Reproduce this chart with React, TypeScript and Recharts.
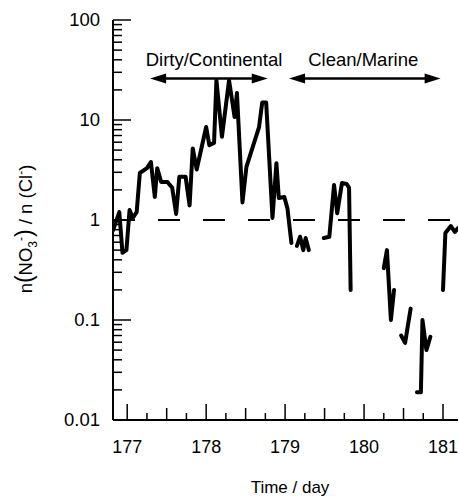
import { LineChart, Line, XAxis, YAxis, ReferenceLine, ReferenceDot, Customized } from "recharts"

// time in days, gaps in the record are marked with a null ratio
const days = [
  176.82, 176.9, 176.94, 176.99, 177.03, 177.07, 177.12, 177.16, 177.25, 177.3,
  177.35, 177.38, 177.43, 177.51, 177.57, 177.62, 177.66, 177.74, 177.79, 177.83,
  177.88, 178.0, 178.04, 178.1, 178.13, 178.2, 178.29, 178.36, 178.39, 178.46,
  178.51, 178.67, 178.71, 178.76, 178.84, 178.89, 178.92, 178.99, 179.03, 179.08,
  179.11,
  179.15, 179.19, 179.23, 179.26, 179.3,
  179.4,
  179.49, 179.56, 179.62, 179.66, 179.72, 179.78, 179.81, 179.83,
  180.0,
  180.25, 180.29, 180.34, 180.38,
  180.42,
  180.47, 180.52, 180.59,
  180.63,
  180.67, 180.72, 180.74, 180.79, 180.84,
  180.9,
  181.0, 181.03, 181.1, 181.15, 181.19,
]
const ratio = [
  0.79, 1.2, 0.47, 0.5, 1.26, 1.05, 1.2, 2.95, 3.3, 3.8,
  1.7, 3.3, 2.4, 2.4, 2.1, 1.15, 2.7, 2.7, 1.4, 5.2,
  3.2, 8.5, 5.6, 5.9, 25, 6.8, 25, 10.7, 18.6, 1.5,
  3.4, 8.5, 15, 15, 1.05, 3.7, 1.66, 1.7, 1.3, 0.59,
  null,
  0.55, 0.68, 0.5, 0.66, 0.5,
  null,
  0.66, 0.68, 2.24, 1.17, 2.34, 2.29, 2.1, 0.2,
  null,
  0.33, 0.5, 0.1, 0.2,
  null,
  0.07, 0.059, 0.13,
  null,
  0.019, 0.019, 0.1, 0.05, 0.068,
  null,
  0.2, 0.74, 0.87, 0.76, 0.83,
]

const dayTicks = [177, 178, 179, 180, 181]
const dayMinor = [0.25, 0.5, 0.75]
const decades = [0.01, 0.1, 1, 10, 100]
const decadeMinor = [2, 3, 4, 5, 6, 7, 8, 9]

const regionNames = ["Dirty/Continental", "Clean/Marine"]
const regionFrom = [177.29, 179.05]
const regionTo = [178.78, 180.97]
const regionLabelDay = [178.1, 179.99]
const arrowLevel = 26
const labelLevel = 35

const FONT = '"Liberation Sans", Arial, Helvetica, sans-serif'

const data = days.map((d, i) => ({ day: d, ratio: ratio[i] }))
const xTicks = dayTicks.flatMap((d) => (d === 181 ? [d] : [d, ...dayMinor.map((m) => d + m)]))
const yTicks = decades.flatMap((d) =>
  d === 100 ? [d] : [d, ...decadeMinor.map((m) => +(d * m).toPrecision(3))]
)

const isDecade = (v: number) => Math.abs(Math.log10(v) - Math.round(Math.log10(v))) < 1e-6
const dayTickLen = (v: number) => {
  const f = v - Math.floor(v)
  if (f < 1e-6) return 16
  if (Math.abs(f - 0.5) < 1e-6) return 12
  return 7
}

function BottomTick(props: any) {
  const { x, y, payload } = props
  const v = payload.value
  return (
    <g>
      <line x1={x} x2={x} y1={y} y2={y - dayTickLen(v)} stroke="#000" strokeWidth={1.5} />
      {Number.isInteger(v) && (
        <text x={x} y={y + 33} textAnchor="middle" fontSize={18} fontFamily={FONT} fill="#000">
          {v}
        </text>
      )}
    </g>
  )
}

function TopTick(props: any) {
  const { x, y, payload } = props
  return <line x1={x} x2={x} y1={y} y2={y + dayTickLen(payload.value)} stroke="#000" strokeWidth={1.5} />
}

function LeftTick(props: any) {
  const { x, y, payload } = props
  const v = payload.value
  const major = isDecade(v)
  return (
    <g>
      <line x1={x} x2={x + (major ? 18 : 9)} y1={y} y2={y} stroke="#000" strokeWidth={1.5} />
      {major && (
        <text x={x - 13} y={y + 6} textAnchor="end" fontSize={18.5} fontFamily={FONT} fill="#000">
          {String(v)}
        </text>
      )}
    </g>
  )
}

function RightTick(props: any) {
  const { x, y, payload } = props
  const major = isDecade(payload.value)
  return <line x1={x} x2={x - (major ? 8 : 2)} y1={y} y2={y} stroke="#000" strokeWidth={1.5} />
}

function Arrow(props: any) {
  const { x1, y1, x2 } = props
  const h = 16
  const w = 5
  return (
    <g>
      <line x1={x1 + h - 2} x2={x2 - h + 2} y1={y1} y2={y1} stroke="#000" strokeWidth={2.5} />
      <polygon points={`${x1},${y1} ${x1 + h},${y1 - w} ${x1 + h},${y1 + w}`} fill="#000" />
      <polygon points={`${x2},${y1} ${x2 - h},${y1 - w} ${x2 - h},${y1 + w}`} fill="#000" />
    </g>
  )
}

function Titles() {
  return (
    <g fontFamily={FONT} fill="#000">
      <text x={290} y={493} textAnchor="middle" fontSize={17}>
        Time / day
      </text>
      <text transform="rotate(-90, 32, 229)" x={32} y={229} textAnchor="middle" fontSize={18.5}>
        n<tspan fontSize={23}>(</tspan>NO
        <tspan fontSize={12} dy={5}>3</tspan>
        <tspan fontSize={12} dy={-12}>-</tspan>
        <tspan fontSize={23} dy={7}>)</tspan> / n (Cl
        <tspan fontSize={12} dy={-7}>-</tspan>
        <tspan dy={7}>)</tspan>
      </text>
    </g>
  )
}

export default function App() {
  return (
    <div style={{ position: "absolute", left: 0, top: 0, background: "#fff" }}>
      <LineChart width={459} height={498} data={data} margin={{ top: 20, right: 1, bottom: 0, left: 0 }}>
        <XAxis
          dataKey="day"
          type="number"
          domain={[176.82, 181.19]}
          allowDataOverflow
          ticks={xTicks}
          interval={0}
          height={78}
          tickSize={0}
          tickMargin={0}
          tick={<BottomTick />}
          axisLine={{ stroke: "#000", strokeWidth: 2 }}
        />
        <XAxis
          xAxisId="top"
          orientation="top"
          dataKey="day"
          type="number"
          domain={[176.82, 181.19]}
          allowDataOverflow
          ticks={xTicks}
          interval={0}
          height={0}
          tickSize={0}
          tickMargin={0}
          tick={<TopTick />}
          axisLine={{ stroke: "#000", strokeWidth: 2 }}
        />
        <YAxis
          scale="log"
          type="number"
          domain={[0.01, 100]}
          allowDataOverflow
          ticks={yTicks}
          interval={0}
          width={113}
          tickSize={0}
          tickMargin={0}
          tick={<LeftTick />}
          axisLine={{ stroke: "#000", strokeWidth: 2 }}
        />
        <YAxis
          yAxisId="r"
          orientation="right"
          scale="log"
          type="number"
          domain={[0.01, 100]}
          allowDataOverflow
          ticks={yTicks}
          interval={0}
          width={0}
          tickSize={0}
          tickMargin={0}
          tick={<RightTick />}
          axisLine={{ stroke: "#000", strokeWidth: 1.5, strokeDasharray: "1 2" }}
        />
        <ReferenceLine y={1} stroke="#000" strokeWidth={2} strokeDasharray="22 23" />
        {regionNames.map((name, i) => (
          <ReferenceLine
            key={name}
            segment={[
              { x: regionFrom[i], y: arrowLevel },
              { x: regionTo[i], y: arrowLevel },
            ]}
            shape={<Arrow />}
          />
        ))}
        {regionNames.map((name, i) => (
          <ReferenceDot
            key={name + "-label"}
            x={regionLabelDay[i]}
            y={labelLevel}
            r={0}
            shape={(p: any) => (
              <text x={p.cx} y={p.cy} textAnchor="middle" fontSize={18.5} fontFamily={FONT} fill="#000">
                {name}
              </text>
            )}
          />
        ))}
        <Line
          dataKey="ratio"
          stroke="#000"
          strokeWidth={4}
          strokeLinejoin="round"
          strokeLinecap="round"
          dot={false}
          activeDot={false}
          connectNulls={false}
          isAnimationActive={false}
        />
        <Customized component={<Titles />} />
      </LineChart>
    </div>
  )
}
